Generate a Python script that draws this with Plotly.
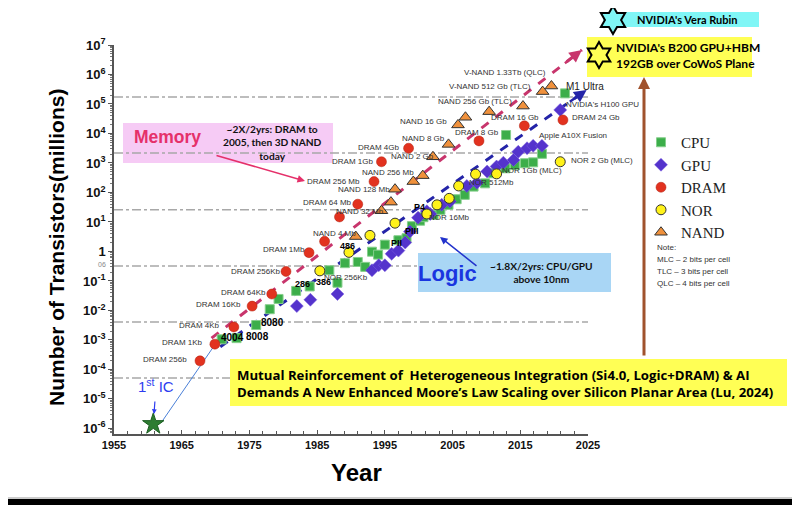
import math
import plotly.graph_objects as go

# transistor counts in millions
CPU_YEARS = [1970.9, 1973.1, 1976.0, 1978.0, 1979.3, 1981.9, 1983.9, 1986.8, 1988.0, 1989.1,
             1991.0, 1992.1, 1993.1, 1994.0, 1995.0, 1997.0, 1998.2, 1999.0, 2000.2, 2000.7,
             2002.2, 2003.2, 2004.4, 2005.6, 2006.8, 2008.1, 2009.8, 2011.0, 2012.8, 2012.9,
             2014.2, 2015.7, 2016.9, 2018.2, 2021.6]
CPU_VALS = [1.05e-3, 1.15e-3, 3.2e-3, 1.1e-2, 2.45e-2, 4.6e-2, 6.5e-2, 0.23, 8.7e-2, 0.40,
            0.44, 0.30, 0.98, 0.78, 1.7, 2.4, 2.8, 7.2, 11, 14.5,
            17.4, 25.7, 38, 59, 83, 158, 204, 447, 660, 8900,
            850, 980, 1050, 2040, 229000]

GPU_YEARS = [1982.0, 1984.0, 1988.0, 1993.1, 1994.1, 1995.0, 1996.0, 1997.0, 1998.0, 1998.7,
             1999.9, 2001.2, 2001.7, 2003.4, 2004.6, 2007.1, 2008.6, 2010.1, 2011.5, 2012.5,
             2014.0, 2014.7, 2016.0, 2016.9, 2018.2, 2020.9]
GPU_VALS = [1.4e-2, 2.3e-2, 3.6e-2, 0.23, 0.34, 0.34, 0.83, 1.07, 2.0, 4.7,
            14, 23, 18.6, 38, 49, 166, 214, 513, 760, 1020,
            1260, 2400, 3160, 3800, 3800, 63000]

DRAM_YEARS = [1967.7, 1969.9, 1972.7, 1975.4, 1978.3, 1980.4, 1983.8, 1986.1, 1988.3, 1991.0,
              1993.4, 1994.5, 1998.5, 2008.9, 2015.6, 2021.3]
DRAM_VALS = [1.95e-4, 7.2e-4, 2.75e-3, 1.4e-2, 3.6e-2, 0.21, 0.91, 2.2, 14.8, 40,
             234, 1100, 3160, 5600, 18200, 28800]

NOR_YEARS = [1985.4, 1989.7, 1992.8, 1996.5, 2001.2, 2002.7, 2004.5, 2005.9, 2008.4, 2011.5, 2020.9]
NOR_VALS = [0.22, 0.93, 3.5, 9.1, 18.6, 38, 63, 166, 417, 427, 1100]

NAND_YEARS = [1990.7, 1994.5, 1995.9, 1996.5, 1999.2, 2000.6, 2002.1, 2004.4, 2005.8, 2006.9,
              2010.4, 2015.4, 2018.3, 2019.6]
NAND_VALS = [3.2, 24, 47, 129, 234, 372, 1620, 4270, 19500, 35500,
             55000, 85000, 263000, 407000]

FIRST_IC_YEAR = [1960.8]
FIRST_IC_VAL = [1.4e-6]

# trend lines (start, end)
IC_LINE_YEARS = [1962.0, 1969.7]
IC_LINE_VALS = [1.6e-6, 5.9e-4]
MEM_TREND_YEARS = [1969.4, 2024.1]
MEM_TREND_VALS = [1.15e-3, 6.8e6]
LOGIC_TREND_YEARS = [1970.7, 2024.8]
LOGIC_TREND_VALS = [5.9e-4, 3.0e5]

GRID_LEVELS = [10 ** 5.24, 10 ** 3.34, 10 ** 1.41, 10 ** -0.49, 10 ** -2.39, 10 ** -4.29]

X_TICKS = [1955, 1965, 1975, 1985, 1995, 2005, 2015, 2025]
Y_EXPONENTS = list(range(-6, 8))

# plot area in page pixels (the page body adds an 8px offset)
L, R, T, B = 114, 588, 45, 434
OFF = 8


def px(x):
    return (x - L) / (R - L)


def py(y):
    return (B - y) / (B - T)


def hexagram(cx, cy, r):
    pts = []
    for i in range(12):
        ang = math.pi / 2 + i * math.pi / 6
        rad = r if i % 2 == 0 else r / math.sqrt(3)
        pts.append((cx + rad * math.cos(ang), cy - rad * math.sin(ang)))
    return "M " + " L ".join(f"{px(x):.4f},{py(y):.4f}" for x, y in pts) + " Z"


SANS = "Liberation Sans, Arial, sans-serif"
CAL = "Lato, Open Sans, sans-serif"
OPEN = "Open Sans, Lato, sans-serif"

fig = go.Figure()

# dash-dot guide lines
for lvl in GRID_LEVELS:
    fig.add_trace(go.Scatter(x=[1955, 2025], y=[lvl, lvl], mode="lines", showlegend=False,
                             hoverinfo="skip",
                             line=dict(color="#a8a8a8", width=1.5, dash="dashdot")))

# trend lines
fig.add_trace(go.Scatter(x=IC_LINE_YEARS, y=IC_LINE_VALS, mode="lines", showlegend=False,
                         line=dict(color="#4a80d8", width=1)))
fig.add_trace(go.Scatter(x=MEM_TREND_YEARS, y=MEM_TREND_VALS, mode="lines", showlegend=False,
                         line=dict(color="#c8356c", width=3, dash="dash")))
fig.add_trace(go.Scatter(x=LOGIC_TREND_YEARS, y=LOGIC_TREND_VALS, mode="lines", showlegend=False,
                         line=dict(color="#2424a8", width=3, dash="dash")))

fig.add_trace(go.Scatter(x=CPU_YEARS, y=CPU_VALS, mode="markers", name="CPU",
                         marker=dict(symbol="square", size=9, color="#3cae4a",
                                     line=dict(color="#86cf8c", width=1))))
fig.add_trace(go.Scatter(x=GPU_YEARS, y=GPU_VALS, mode="markers", name="GPU",
                         marker=dict(symbol="diamond", size=10, color="#5433cc",
                                     line=dict(color="#7a5de0", width=0.5))))
fig.add_trace(go.Scatter(x=DRAM_YEARS, y=DRAM_VALS, mode="markers", name="DRAM",
                         marker=dict(symbol="circle", size=10, color="#e2321f",
                                     line=dict(color="#b02010", width=0.5))))
fig.add_trace(go.Scatter(x=NOR_YEARS, y=NOR_VALS, mode="markers", name="NOR",
                         marker=dict(symbol="circle", size=10, color="#fff21a",
                                     line=dict(color="#333333", width=1))))
fig.add_trace(go.Scatter(x=NAND_YEARS, y=NAND_VALS, mode="markers", name="NAND",
                         marker=dict(symbol="triangle-up", size=11, color="#f0913c",
                                     line=dict(color="#333333", width=1))))
fig.add_trace(go.Scatter(x=FIRST_IC_YEAR, y=FIRST_IC_VAL, mode="markers", showlegend=False,
                         marker=dict(symbol="star", size=16, color="#2e7d32",
                                     line=dict(color="#1b5e20", width=1))))

annotations = []


def note(text, x, y, size=8, color="#333333", bold=False, family=SANS, xanchor="center"):
    if bold:
        text = f"<b>{text}</b>"
    annotations.append(dict(text=text, x=px(x), y=py(y), xref="paper", yref="paper",
                            showarrow=False, xanchor=xanchor, yanchor="middle",
                            align="left" if xanchor == "left" else "center",
                            font=dict(family=family, size=size, color=color)))


# point labels
point_labels = [
    ("DRAM 256b", 165, 359), ("DRAM 1Kb", 182, 342), ("DRAM 4Kb", 199, 325),
    ("DRAM 16Kb", 218, 304), ("DRAM 64Kb", 243, 292), ("DRAM 256Kb", 255, 271),
    ("DRAM 1Mb", 284, 249), ("DRAM 64 Mb", 327, 202), ("DRAM 256 Mb", 333, 181),
    ("DRAM 1Gb", 352, 161), ("DRAM 4Gb", 378, 147), ("DRAM 8 Gb", 477, 132),
    ("DRAM 16 Gb", 515, 118), ("DRAM 24 Gb", 596, 118),
    ("NAND 4 Mb", 334, 233), ("NAND 32 Mb", 360, 211), ("NAND 128 Mb", 364, 189),
    ("NAND 256 Mb", 388, 172), ("NAND 2 Gb", 412, 156), ("NAND 8 Gb", 423, 139),
    ("NAND 16 Gb", 423, 121), ("NAND 256 Gb (TLC)", 475, 101),
    ("V-NAND 512 Gb (TLC)", 490, 86), ("V-NAND 1.33Tb (QLC)", 505, 72),
    ("NOR 256Kb", 346, 277), ("NOR 16Mb", 449, 217), ("NOR 512Mb", 491, 183),
    ("NOR 1Gb (MLC)", 532, 170), ("NOR 2 Gb (MLC)", 602, 160),
    ("Apple A10X Fusion", 573, 136), ("NVIDIA's H100 GPU", 602, 105),
]
for t, x, y in point_labels:
    note(t, x, y)
note("M1 Ultra", 585, 87, size=10, color="#222222")
note("06", 102, 264, size=7, color="#888888")

chip_labels = [("4004", 232, 337, 10), ("8008", 257, 336, 10), ("8080", 272, 322, 10),
               ("286", 302, 284, 9), ("386", 323, 282, 9), ("486", 347, 246, 9),
               ("PII", 396, 243, 9), ("PIII", 412, 231, 9), ("P4", 419, 207, 9)]
for t, x, y, s in chip_labels:
    note(t, x, y, size=s, color="#000000", bold=True)

# callout texts
note("Memory", 167, 137, size=17.5, color="#e5306a", bold=True)
note("~2X/2yrs: DRAM to<br>2005, then 3D NAND<br>today", 272, 142, size=10.2,
     color="#111111", bold=True, family=CAL)
note("Logic", 447, 273, size=22, color="#1a35e0", bold=True)
note("~1.8X/2yrs: CPU/GPU<br>above 10nm", 541, 272, size=10.2, color="#111111",
     bold=True, family=CAL)
note("Mutual Reinforcement of  Heterogeneous Integration (Si4.0, Logic+DRAM) & AI<br>"
     "Demands A New Enhanced Moore’s Law Scaling over Silicon Planar Area (Lu, 2024)",
     235, 383, size=13.2, color="#000000", bold=True, family=OPEN, xanchor="left")
note("NVIDIA's Vera Rubin", 635, 20, size=11, color="#000000", bold=True, family=CAL,
     xanchor="left")
note("NVIDIA's B200 GPU+HBM<br>192GB over CoWoS Plane", 614, 55, size=12, color="#000000",
     bold=True, family=CAL, xanchor="left")
note("1<sup>st</sup> IC", 156, 385, size=15, color="#2d3cf0")

# legend notes
for t, y in [("Note:", 247), ("MLC – 2 bits per cell", 259), ("TLC – 3 bits per cell", 271),
             ("QLC – 4 bits per cell", 283)]:
    note(t, 655, y, size=8, color="#333333", xanchor="left")

# axis titles
note("Number of Transistors(millions)", 57, 248, size=21, color="#000000", bold=True)
annotations[-1]["textangle"] = -90
note("Year", 356, 472, size=24, color="#000000", bold=True)


def arrow(x0, y0, x1, y1, color, width=1.5, head=2, size=1.0):
    annotations.append(dict(x=px(x1), y=py(y1), xref="paper", yref="paper", text="",
                            showarrow=True, ax=x0 - x1, ay=y0 - y1, arrowcolor=color,
                            arrowwidth=width, arrowhead=head, arrowsize=size))


arrow(215, 155, 305, 181, "#e5306a", width=1.5)
arrow(478, 267, 440, 237, "#2233cc", width=1.5)
arrow(644, 357, 644, 77, "#a0522d", width=3, head=2, size=0.8)
arrow(155, 400, 154, 414, "#2d3cf0", width=1.2, head=2, size=0.8)

# arrowheads on the dashed trend lines, pointing along each line
for ys, vs, col in [(MEM_TREND_YEARS, MEM_TREND_VALS, "#c8356c"),
                    (LOGIC_TREND_YEARS, LOGIC_TREND_VALS, "#2424a8")]:
    lx0, lx1 = ys
    ly0, ly1 = math.log10(vs[0]), math.log10(vs[1])
    annotations.append(dict(x=lx1, y=ly1, xref="x", yref="y", axref="x", ayref="y",
                            ax=lx1 - 0.05 * (lx1 - lx0), ay=ly1 - 0.05 * (ly1 - ly0),
                            text="", showarrow=True, arrowcolor=col, arrowwidth=2.5,
                            arrowhead=2, arrowsize=1))

shapes = [
    dict(type="rect", xref="paper", yref="paper", x0=px(123), x1=px(333), y0=py(163), y1=py(123),
         fillcolor="#f6cbf5", line=dict(width=0), layer="below"),
    dict(type="rect", xref="paper", yref="paper", x0=px(418), x1=px(611), y0=py(292), y1=py(253),
         fillcolor="#a9d6f5", line=dict(width=0), layer="above"),
    dict(type="rect", xref="paper", yref="paper", x0=px(230), x1=px(787), y0=py(406), y1=py(359),
         fillcolor="#ffff55", line=dict(width=0), layer="above"),
    dict(type="rect", xref="paper", yref="paper", x0=px(603), x1=px(759), y0=py(27), y1=py(12),
         fillcolor="#80f6f6", line=dict(width=0)),
    dict(type="rect", xref="paper", yref="paper", x0=px(587), x1=px(752), y0=py(77), y1=py(37),
         fillcolor="#ffff55", line=dict(width=0)),
    dict(type="path", xref="paper", yref="paper", path=hexagram(613, 20, 14),
         fillcolor="#80f6f6", line=dict(color="#000000", width=2)),
    dict(type="path", xref="paper", yref="paper", path=hexagram(599, 55, 13),
         fillcolor="#ffff55", line=dict(color="#000000", width=2)),
    dict(type="line", xref="paper", yref="paper", x0=px(0), x1=px(800), y0=py(498), y1=py(498),
         line=dict(color="#999999", width=1)),
    dict(type="rect", xref="paper", yref="paper", x0=px(0), x1=px(800), y0=py(510), y1=py(499),
         fillcolor="#000000", line=dict(width=0)),
]

fig.update_layout(
    width=800, height=505,
    margin=dict(l=L - OFF, r=800 - R + OFF, t=T - OFF, b=505 - B + OFF),
    paper_bgcolor="white", plot_bgcolor="white",
    showlegend=True,
    legend=dict(x=px(641), y=py(126), xanchor="left", yanchor="top",
                font=dict(family="Liberation Serif, Times New Roman, serif", size=15, color="#222222"),
                bgcolor="rgba(0,0,0,0)", tracegroupgap=0),
    annotations=annotations,
    shapes=shapes,
)

fig.update_xaxes(
    range=[1955, 2025], tickvals=X_TICKS, ticktext=[f"<b>{v}</b>" for v in X_TICKS],
    tickfont=dict(family=SANS, size=11, color="#111111"),
    showline=True, linecolor="#555555", linewidth=1.5, showgrid=False, zeroline=False,
    ticks="inside", ticklen=4, tickcolor="#555555",
    minor=dict(tick0=1955, dtick=2, ticks="inside", ticklen=3, tickcolor="#555555"),
)
fig.update_yaxes(
    type="log", range=[-6.19, 7.0],
    tickvals=[10 ** e for e in Y_EXPONENTS],
    ticktext=["<b>1</b>" if e == 0 else f"<b>10<sup>{e}</sup></b>" for e in Y_EXPONENTS],
    tickfont=dict(family=SANS, size=13, color="#111111"),
    showline=True, linecolor="#555555", linewidth=1.5, showgrid=False, zeroline=False,
    ticks="outside", ticklen=4, tickcolor="#555555",
    minor=dict(ticks="outside", ticklen=2, tickcolor="#777777", dtick="D1"),
)

fig.write_html("out.html")
